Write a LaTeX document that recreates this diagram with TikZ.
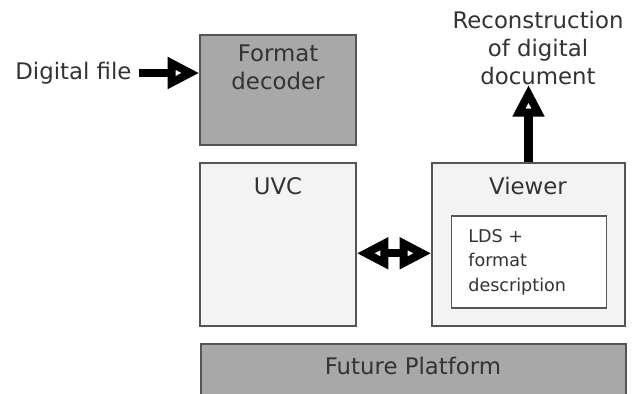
\documentclass[tikz,border=0pt]{standalone}
\usepackage{fontspec}
\setmainfont{DejaVu Sans}
\usetikzlibrary{arrows.meta}
\definecolor{boxdark}{HTML}{A8A8A8}
\definecolor{boxlight}{HTML}{F3F3F3}
\definecolor{boxline}{HTML}{555555}
\definecolor{txt}{HTML}{333333}
\begin{document}
\begin{tikzpicture}[x=0.02cm,y=-0.02cm,
		box/.style={draw=boxline,line width=0.8pt,rectangle,inner sep=0pt},
		txtlabel/.style={text=txt,font=\fontsize{13}{15.8}\selectfont,align=center,inner sep=0pt},
		bigarrow/.style={line width=4.6pt,-{Triangle[open,length=18pt,width=17pt]}}]
		\clip (0,0) rectangle (636,394);
		\fill[white] (0,0) rectangle (636,394);
		% boxes
		\node[box,fill=boxdark,minimum width=3.12cm,minimum height=2.2cm] (fmt) at (278,90) {};
		\node[box,fill=boxlight,minimum width=3.12cm,minimum height=3.26cm] (uvc) at (278,244.5) {};
		\node[box,fill=boxlight,minimum width=3.86cm,minimum height=3.26cm] (viewer) at (528.5,244.5) {};
		\node[box,fill=white,minimum width=3.1cm,minimum height=1.84cm] (lds) at (529,262) {};
		\node[box,fill=boxdark,minimum width=8.5cm,minimum height=1.12cm] (platform) at (413.5,372) {};
		% texts
		\node[txtlabel] (fmtlabel) at (278,67) {Format\\decoder};
		\node[txtlabel] (uvclabel) at (278,186) {UVC};
		\node[txtlabel] (viewerlabel) at (528,186) {Viewer};
		\node[txtlabel,align=left,anchor=west,font=\fontsize{10}{13.9}\selectfont] (ldslabel) at (468,262) {LDS +\\format\\description};
		\node[txtlabel] (platformlabel) at (413,366) {Future Platform};
		\node[txtlabel,anchor=west] (file) at (15,73) {Digital file};
		\node[txtlabel] (recon) at (538,48) {Reconstruction\\of digital\\document};
		% arrows
		\draw[bigarrow] ([xshift=4pt]file.east) -- (file.east -| fmt.west);
		\draw[bigarrow] (viewer.north) -- (viewer.north |- recon.south);
		\draw[bigarrow,{Triangle[open,length=18pt,width=17pt]}-{Triangle[open,length=18pt,width=17pt]}] ([yshift=-5pt]uvc.east) -- ([yshift=-5pt]uvc.east -| viewer.west);
	\end{tikzpicture}
\end{document}
